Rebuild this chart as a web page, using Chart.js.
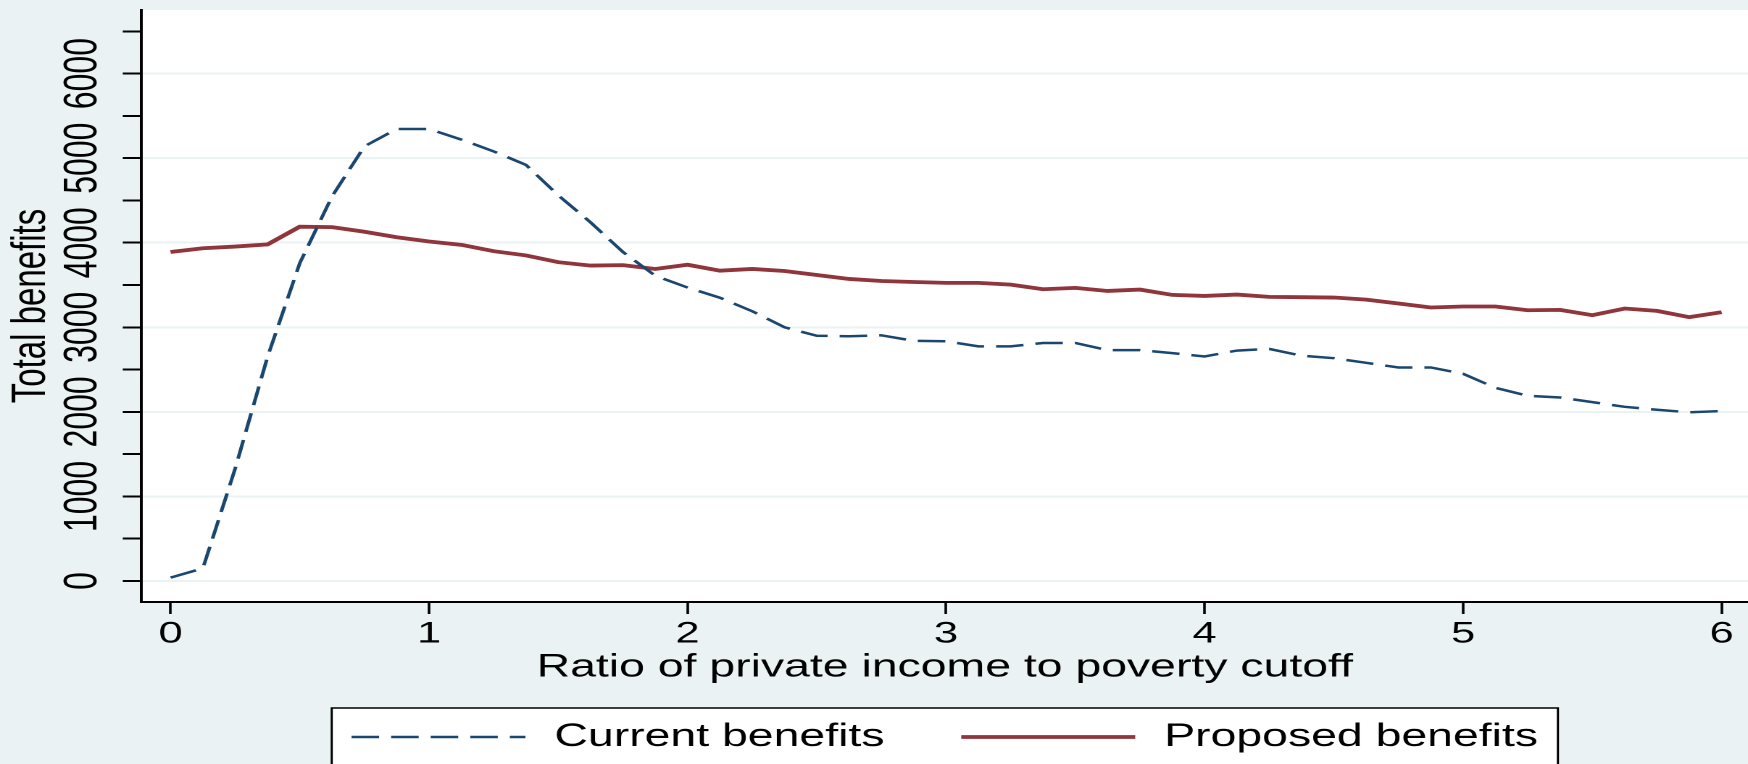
<!DOCTYPE html>
<html>
<head>
<meta charset="utf-8">
<script src="https://cdn.jsdelivr.net/npm/chart.js@4.4.1/dist/chart.umd.min.js"></script>
<style>
  html, body { margin: 0; padding: 0; background: #eaf2f3; overflow: hidden; }
  /* the original graph is stretched sideways, so the canvas is too */
  #chart { display: block; transform: scaleX(1.4494); transform-origin: 0 0; }
</style>
</head>
<body>
<canvas id="chart" width="1206" height="764"></canvas>
<script>
// ratio of private income to poverty cutoff
const ratio = [0, 0.125, 0.25, 0.375, 0.5, 0.625, 0.75, 0.875, 1, 1.125, 1.25, 1.375, 1.5, 1.625, 1.75, 1.875,
  2, 2.125, 2.25, 2.375, 2.5, 2.625, 2.75, 2.875, 3, 3.125, 3.25, 3.375, 3.5, 3.625, 3.75, 3.875,
  4, 4.125, 4.25, 4.375, 4.5, 4.625, 4.75, 4.875, 5, 5.125, 5.25, 5.375, 5.5, 5.625, 5.75, 5.875, 6];

const currentBenefits = [40, 150, 1330, 2650, 3760, 4550, 5140, 5345, 5345, 5220, 5080, 4920, 4560, 4240, 3890, 3610,
  3470, 3350, 3190, 3000, 2900, 2895, 2905, 2840, 2835, 2775, 2775, 2815, 2815, 2730, 2730, 2695,
  2655, 2725, 2745, 2665, 2635, 2580, 2525, 2525, 2450, 2285, 2190, 2170, 2115, 2060, 2025, 1995, 2010];

const proposedBenefits = [3890, 3935, 3955, 3980, 4190, 4185, 4130, 4065, 4015, 3975, 3900, 3850, 3770, 3730, 3735, 3690,
  3740, 3670, 3690, 3666, 3619, 3572, 3548, 3536, 3525, 3525, 3505, 3450, 3466, 3430, 3446, 3383,
  3371, 3387, 3360, 3356, 3352, 3328, 3281, 3234, 3246, 3246, 3202, 3206, 3143, 3222, 3194, 3120, 3179];

const xTicks = [0, 1, 2, 3, 4, 5, 6];
const yTicks = [0, 500, 1000, 1500, 2000, 2500, 3000, 3500, 4000, 4500, 5000, 5500, 6000, 6500];
const yLabels = [0, 1000, 2000, 3000, 4000, 5000, 6000];

const GRID = '#eaf2f3';
const FONT = "'Liberation Sans', Arial, Helvetica, sans-serif";

Chart.defaults.font.family = FONT;
Chart.defaults.color = '#000';

// white plot region
const plotBackground = {
  id: 'plotBackground',
  beforeDraw(chart) {
    const a = chart.chartArea;
    chart.ctx.save();
    chart.ctx.fillStyle = '#fff';
    chart.ctx.fillRect(a.left, a.top, a.right - a.left, a.bottom - a.top);
    chart.ctx.restore();
  }
};

// boxed legend under the axis title, like Stata draws it
const boxLegend = {
  id: 'boxLegend',
  afterDraw(chart) {
    const ctx = chart.ctx;
    const a = chart.chartArea;
    const sample = 120, gapText = 20, gapItem = 53;
    ctx.save();
    ctx.font = '32px ' + FONT;
    const items = chart.data.datasets.map(ds => ({ ds, w: ctx.measureText(ds.label).width }));
    let total = 0;
    items.forEach((it, i) => { total += sample + gapText + it.w + (i ? gapItem : 0); });

    const boxW = 846, boxTop = 708, boxH = 60;
    const cx = (a.left + a.right) / 2;
    ctx.fillStyle = '#fff';
    ctx.fillRect(cx - boxW / 2, boxTop, boxW, boxH);
    ctx.lineWidth = 1.5;
    ctx.strokeStyle = '#000';
    ctx.strokeRect(cx - boxW / 2, boxTop, boxW, boxH);

    let x = cx - total / 2;
    const y = 737;
    items.forEach((it, i) => {
      if (i) x += gapItem;
      ctx.beginPath();
      ctx.setLineDash(it.ds.borderDash || []);
      ctx.lineWidth = it.ds.borderWidth;
      ctx.strokeStyle = it.ds.borderColor;
      ctx.moveTo(x, y);
      ctx.lineTo(x + sample, y);
      ctx.stroke();
      ctx.setLineDash([]);
      x += sample + gapText;
      ctx.fillStyle = '#000';
      ctx.textBaseline = 'middle';
      ctx.textAlign = 'left';
      ctx.fillText(it.ds.label, x, y);
      x += it.w;
    });
    ctx.restore();
  }
};

new Chart(document.getElementById('chart'), {
  type: 'line',
  data: {
    datasets: [
      {
        label: 'Current benefits',
        data: ratio.map((r, i) => ({ x: r, y: currentBenefits[i] })),
        borderColor: '#1a476f',
        borderWidth: 2.5,
        borderDash: [19, 8.3],
        pointRadius: 0,
        tension: 0
      },
      {
        label: 'Proposed benefits',
        data: ratio.map((r, i) => ({ x: r, y: proposedBenefits[i] })),
        borderColor: '#90353b',
        borderWidth: 3.8,
        pointRadius: 0,
        tension: 0
      }
    ]
  },
  options: {
    responsive: false,
    animation: false,
    devicePixelRatio: 2,
    layout: { padding: { top: 10, right: 0, bottom: 77, left: 0 } },
    plugins: { legend: { display: false }, tooltip: { enabled: false } },
    scales: {
      x: {
        type: 'linear',
        min: -0.112,
        max: 6.102,
        afterBuildTicks: s => { s.ticks = xTicks.map(v => ({ value: v })); },
        afterFit: s => { s.height = 85; },
        ticks: { autoSkip: false, padding: 2, font: { size: 30 }, color: '#000' },
        grid: { drawOnChartArea: false, color: '#000', tickColor: '#000', tickLength: 12, tickWidth: 1.8 },
        border: { display: true, color: '#000', width: 2 },
        title: {
          display: true,
          text: 'Ratio of private income to poverty cutoff',
          font: { size: 32 },
          color: '#000',
          padding: { top: 0, bottom: 0 }
        }
      },
      y: {
        min: -248,
        max: 6752,
        afterBuildTicks: s => { s.ticks = yTicks.map(v => ({ value: v })); },
        afterFit: s => { s.width = 97.7; },
        ticks: {
          autoSkip: false,
          minRotation: 90,
          maxRotation: 90,
          crossAlign: 'center',
          padding: -8.4,
          font: { size: 32, lineHeight: 1 },
          color: '#000',
          callback: v => yLabels.includes(v) ? String(v) : ''
        },
        grid: {
          color: c => (c.tick && yLabels.includes(c.tick.value)) ? GRID : 'rgba(0,0,0,0)',
          lineWidth: 2,
          tickColor: '#000',
          tickLength: 13,
          tickWidth: 2
        },
        border: { display: true, color: '#000', width: 2 },
        title: {
          display: true,
          text: 'Total benefits',
          font: { size: 33 },
          color: '#000',
          padding: { top: 2, bottom: 0 }
        }
      }
    }
  },
  plugins: [plotBackground, boxLegend]
});
</script>
</body>
</html>
